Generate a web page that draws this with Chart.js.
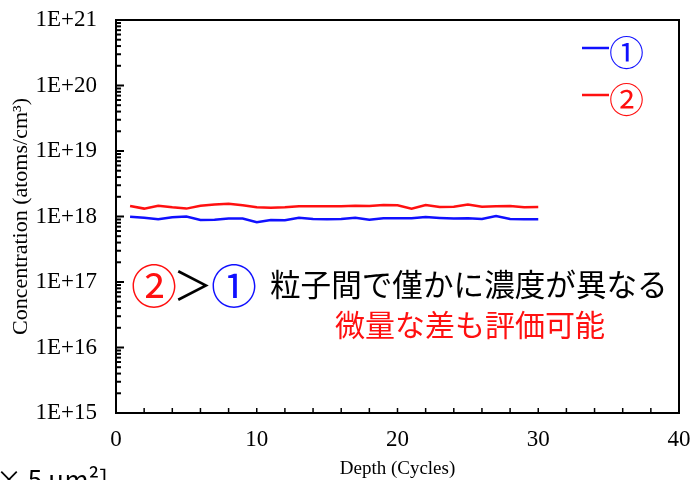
<!DOCTYPE html>
<html>
<head>
<meta charset="utf-8">
<script src="https://cdn.jsdelivr.net/npm/chart.js@4.4.1/dist/chart.umd.min.js"></script>
<style>
  html, body { margin: 0; padding: 0; background: #ffffff; }
  #wrap { width: 690px; height: 480px; position: relative; }
</style>
</head>
<body>
<div id="wrap"><canvas id="chart" width="690" height="480"></canvas></div>
<script>
// Depth in cycles
const cycles = [1, 2, 3, 4, 5, 6, 7, 8, 9, 10, 11, 12, 13, 14, 15,
  16, 17, 18, 19, 20, 21, 22, 23, 24, 25, 26, 27, 28, 29, 30];

// Particle ① (blue), atoms/cm3
const particle1 = [0.99e18, 0.96e18, 0.905e18, 0.97e18, 1.0e18, 0.885e18, 0.895e18, 0.93e18, 0.93e18, 0.82e18,
  0.885e18, 0.874e18, 0.96e18, 0.916e18, 0.905e18, 0.916e18, 0.96e18, 0.895e18, 0.938e18, 0.938e18,
  0.938e18, 0.98e18, 0.95e18, 0.93e18, 0.938e18, 0.916e18, 1.02e18, 0.916e18, 0.905e18, 0.905e18];

// Particle ② (red), atoms/cm3
const particle2 = [1.45e18, 1.32e18, 1.46e18, 1.38e18, 1.32e18, 1.46e18, 1.52e18, 1.57e18, 1.48e18, 1.38e18,
  1.36e18, 1.38e18, 1.43e18, 1.43e18, 1.43e18, 1.43e18, 1.46e18, 1.45e18, 1.50e18, 1.48e18,
  1.32e18, 1.50e18, 1.40e18, 1.41e18, 1.53e18, 1.41e18, 1.43e18, 1.45e18, 1.38e18, 1.40e18];

const seriesLabels = ["①", "②"];
const decadeTicks = [1e15, 1e16, 1e17, 1e18, 1e19, 1e20, 1e21];
const xTicks = [0, 10, 20, 30, 40];

const annotationMain = ["②", "＞", "①", "粒子間で僅かに濃度が異なる"];
const annotationSub = "微量な差も評価可能";
const cutNote = "× 5 μm²]";

const BLUE = "#1010ff";
const RED = "#ff1010";
const SERIF = "'Liberation Serif', 'DejaVu Serif', serif";
const JP = "'Noto Sans CJK JP', 'Noto Sans', sans-serif";

// Frame and inward tick marks
const framePlugin = {
  id: "frame",
  afterDatasetsDraw(chart) {
    const { ctx, chartArea: a, scales } = chart;
    ctx.save();
    ctx.strokeStyle = "#000000";
    ctx.lineWidth = 2;
    ctx.strokeRect(a.left, a.top, a.right - a.left, a.bottom - a.top);

    // y: decade (long) and 2..9 (short) ticks
    const y = scales.y;
    for (let e = 15; e <= 20; e++) {
      for (let m = 1; m <= 9; m++) {
        const py = y.getPixelForValue(m * Math.pow(10, e));
        const len = m === 1 ? 8 : 5;
        ctx.beginPath();
        ctx.moveTo(a.left, py);
        ctx.lineTo(a.left + len, py);
        ctx.stroke();
      }
    }
    // x: minor ticks every 2 cycles
    const x = scales.x;
    ctx.lineWidth = 1.5;
    for (let v = 2; v < 40; v += 2) {
      const px = x.getPixelForValue(v);
      ctx.beginPath();
      ctx.moveTo(px, a.bottom);
      ctx.lineTo(px, a.bottom - 5);
      ctx.stroke();
    }
    ctx.restore();
  }
};

// Legend and text notes
const notesPlugin = {
  id: "notes",
  afterDraw(chart) {
    const { ctx } = chart;
    ctx.save();
    ctx.textBaseline = "middle";

    // legend: short line + circled number
    chart.data.datasets.forEach((ds, i) => {
      const ly = 48 + i * 47;
      ctx.strokeStyle = ds.borderColor;
      ctx.lineWidth = 2.5;
      ctx.beginPath();
      ctx.moveTo(582, ly);
      ctx.lineTo(609, ly);
      ctx.stroke();
      ctx.fillStyle = ds.borderColor;
      ctx.font = "35px " + JP;
      ctx.textAlign = "left";
      ctx.fillText(ds.label, 609, ly + 5);
    });

    // ② ＞ ① annotation
    ctx.textAlign = "left";
    ctx.font = "46px " + JP;
    ctx.fillStyle = RED;
    ctx.fillText(annotationMain[0], 131, 286);
    ctx.fillStyle = "#000000";
    ctx.font = "40px " + JP;
    ctx.fillText(annotationMain[1], 173, 285);
    ctx.fillStyle = BLUE;
    ctx.font = "46px " + JP;
    ctx.fillText(annotationMain[2], 211, 286);
    ctx.fillStyle = "#000000";
    ctx.font = "30.6px " + JP;
    ctx.fillText(annotationMain[3], 270, 284);
    ctx.fillStyle = RED;
    ctx.font = "30px " + JP;
    ctx.fillText(annotationSub, 335, 325);

    // cut-off note at bottom-left
    ctx.fillStyle = "#000000";
    ctx.font = "26px " + JP;
    ctx.textBaseline = "alphabetic";
    ctx.fillText(cutNote, -4, 489);
    ctx.restore();
  }
};

new Chart(document.getElementById("chart"), {
  type: "line",
  data: {
    labels: cycles,
    datasets: [
      {
        label: seriesLabels[0],
        data: cycles.map((c, i) => ({ x: c, y: particle1[i] })),
        borderColor: BLUE,
        borderWidth: 2.5,
        pointRadius: 0,
        tension: 0
      },
      {
        label: seriesLabels[1],
        data: cycles.map((c, i) => ({ x: c, y: particle2[i] })),
        borderColor: RED,
        borderWidth: 2.5,
        pointRadius: 0,
        tension: 0
      }
    ]
  },
  options: {
    responsive: false,
    animation: false,
    layout: { padding: { top: 20, right: 11, left: 0, bottom: 0 } },
    plugins: {
      legend: { display: false },
      tooltip: { enabled: false }
    },
    scales: {
      x: {
        type: "linear",
        min: 0,
        max: 40,
        afterBuildTicks: (s) => { s.ticks = xTicks.map((v) => ({ value: v })); },
        afterFit: (s) => { s.height = 67; s.paddingLeft = 0; s.paddingRight = 0; },
        grid: { display: false, drawTicks: false },
        border: { display: false },
        ticks: {
          color: "#000000",
          font: { family: SERIF, size: 23 },
          padding: 13
        },
        title: {
          display: true,
          text: "Depth (Cycles)",
          color: "#000000",
          font: { family: SERIF, size: 19 },
          padding: { top: 0, bottom: 0 }
        }
      },
      y: {
        type: "logarithmic",
        min: 1e15,
        max: 1e21,
        afterBuildTicks: (s) => { s.ticks = decadeTicks.map((v) => ({ value: v })); },
        afterFit: (s) => { s.width = 116; s.paddingTop = 0; s.paddingBottom = 0; },
        grid: { display: false, drawTicks: false },
        border: { display: false },
        ticks: {
          color: "#000000",
          font: { family: SERIF, size: 23 },
          padding: 19,
          callback: (v) => "1E+" + Math.round(Math.log10(v))
        },
        title: {
          display: true,
          text: "Concentration (atoms/cm³)",
          color: "#000000",
          font: { family: SERIF, size: 22 },
          padding: { top: 8, bottom: 0 }
        }
      }
    }
  },
  plugins: [framePlugin, notesPlugin]
});
</script>
</body>
</html>
